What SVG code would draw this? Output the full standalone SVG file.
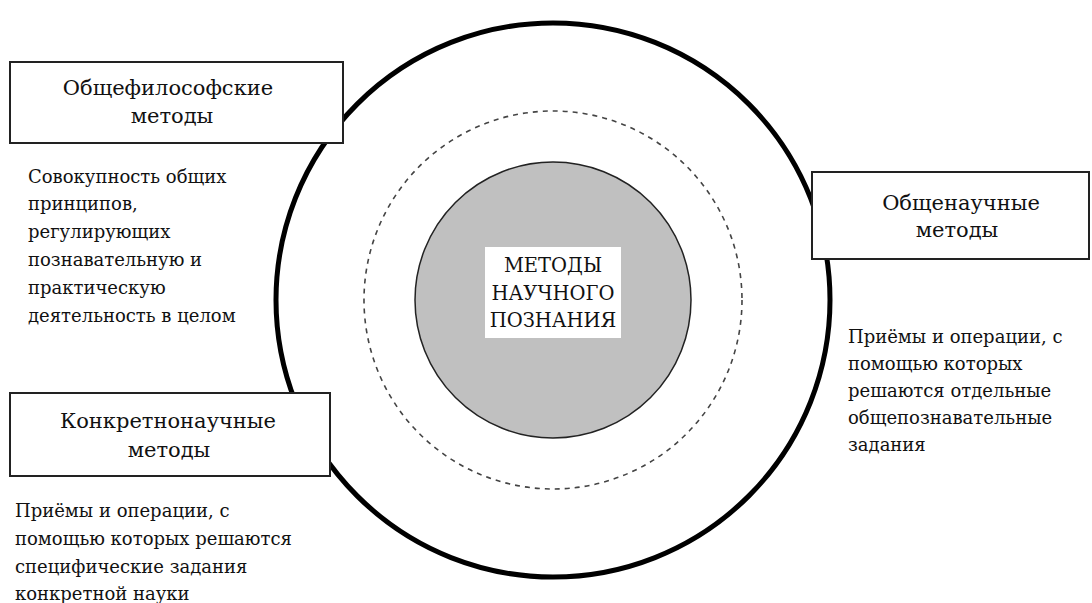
<svg xmlns="http://www.w3.org/2000/svg" width="1092" height="603" viewBox="0 0 1092 603">
<style>
.box{fill:#fff;stroke:#222;stroke-width:2}
.title{font-family:"DejaVu Serif",serif;font-size:21px;fill:#111;text-anchor:middle}
.body{font-family:"DejaVu Serif",serif;font-size:18px;fill:#111}
.center{font-family:"DejaVu Serif",serif;font-size:19.5px;fill:#111;text-anchor:middle}
</style>
<rect width="1092" height="603" fill="#fff"/>
<g id="outer-circle"><circle cx="553" cy="300" r="277" fill="none" stroke="#000" stroke-width="5"/></g>
<g id="dashed-circle"><circle cx="553" cy="300" r="189" fill="none" stroke="#444" stroke-width="1.6" stroke-dasharray="5 5"/></g>
<g id="core">
<circle cx="553" cy="300" r="138" fill="#c0c0c0" stroke="#222" stroke-width="1.5"/>
<rect x="485" y="247" width="136" height="91" fill="#fff"/>
<text class="center" x="553" y="272">МЕТОДЫ</text>
<text class="center" x="553" y="300">НАУЧНОГО</text>
<text class="center" x="553" y="327">ПОЗНАНИЯ</text>
</g>
<g id="philosophical">
<rect class="box" x="10" y="62" width="333" height="81"/>
<text class="title" x="168" y="95">Общефилософские</text>
<text class="title" x="172" y="123">методы</text>
<text class="body"><tspan x="28" y="183">Совокупность общих</tspan><tspan x="28" y="210">принципов,</tspan><tspan x="28" y="238">регулирующих</tspan><tspan x="28" y="266">познавательную и</tspan><tspan x="28" y="294">практическую</tspan><tspan x="28" y="322">деятельность в целом</tspan></text>
</g>
<g id="general-scientific">
<rect class="box" x="812" y="172" width="277" height="87"/>
<text class="title" x="961" y="210">Общенаучные</text>
<text class="title" x="957" y="237">методы</text>
<text class="body"><tspan x="848" y="343">Приёмы и операции, с</tspan><tspan x="848" y="370">помощью которых</tspan><tspan x="848" y="397">решаются отдельные</tspan><tspan x="848" y="424">общепознавательные</tspan><tspan x="848" y="451">задания</tspan></text>
</g>
<g id="specific-scientific">
<rect class="box" x="10" y="393" width="320" height="83"/>
<text class="title" x="168" y="428">Конкретнонаучные</text>
<text class="title" x="169" y="457">методы</text>
<text class="body"><tspan x="15" y="517">Приёмы и операции, с</tspan><tspan x="15" y="545">помощью которых решаются</tspan><tspan x="15" y="573">специфические задания</tspan><tspan x="15" y="600">конкретной науки</tspan></text>
</g>
</svg>
